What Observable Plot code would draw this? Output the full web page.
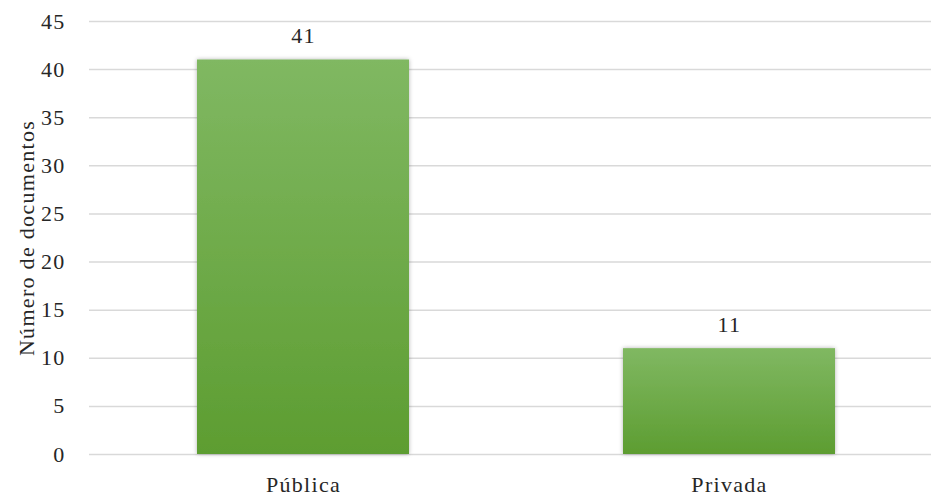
<!DOCTYPE html>
<html>
<head>
<meta charset="utf-8">
<script src="https://cdn.jsdelivr.net/npm/d3@7"></script>
<script src="https://cdn.jsdelivr.net/npm/@observablehq/plot@0.6"></script>
<style>
  html, body { margin: 0; padding: 0; background: #fff; }
  #chart svg { display: block; }
</style>
</head>
<body>
<div id="chart"></div>
<script>
const categories = ["Pública", "Privada"];
const values = [41, 11];
const yTicks = [0, 5, 10, 15, 20, 25, 30, 35, 40, 45];
const yLabel = "Número de documentos";

const data = categories.map((c, i) => ({category: c, value: values[i]}));
const serif = "'Liberation Serif', 'DejaVu Serif', serif";

const chart = Plot.plot({
  width: 931,
  height: 497,
  marginLeft: 89,
  marginRight: 0,
  marginTop: 21,
  marginBottom: 43,
  style: "font-family: 'Liberation Serif', 'DejaVu Serif', serif; font-size: 22px; letter-spacing: 1.3px; color: #262626; background: #fff;",
  x: {domain: categories, range: [89, 942], paddingInner: 0.503, paddingOuter: 0.2515, align: 0.5, label: null},
  y: {domain: [0, 45], ticks: yTicks, label: null},
  marks: [
    Plot.gridY(yTicks, {stroke: "#d9d9d9", strokeOpacity: 1, strokeWidth: 1.5}),
    Plot.barY(data, {x: "category", y: "value", fill: "url(#barGrad)"}),
    Plot.text(data, {x: "category", y: "value", text: d => String(d.value), dy: -17, lineAnchor: "bottom", fill: "#262626", fontSize: 22}),
    Plot.axisY(yTicks, {tickSize: 0, tickPadding: 24, label: null, fontSize: 22}),
    Plot.axisX({tickSize: 0, tickPadding: 22, label: null, fontSize: 22}),
    Plot.text([yLabel], {frameAnchor: "left", textAnchor: "middle", dx: -63, rotate: -90, fontSize: 22, fill: "#262626"})
  ]
});

chart.querySelectorAll("g, text").forEach(el => {
  if (el.hasAttribute("font-family") || el.tagName === "text") {
    el.setAttribute("font-family", serif);
    el.style.fontFamily = serif;
  }
});

const ns = "http://www.w3.org/2000/svg";
const defs = document.createElementNS(ns, "defs");
defs.innerHTML = `
  <linearGradient id="barGrad" x1="0" y1="0" x2="0" y2="1">
    <stop offset="0" stop-color="#80b862"/>
    <stop offset="1" stop-color="#5d9d31"/>
  </linearGradient>
  <filter id="barShadow" x="-10%" y="-10%" width="120%" height="120%">
    <feDropShadow dx="0" dy="0" stdDeviation="2" flood-color="#000" flood-opacity="0.3"/>
  </filter>`;
chart.insertBefore(defs, chart.firstChild);
chart.querySelectorAll("g[aria-label='bar']").forEach(g => g.setAttribute("filter", "url(#barShadow)"));
document.getElementById("chart").appendChild(chart);
</script>
</body>
</html>
